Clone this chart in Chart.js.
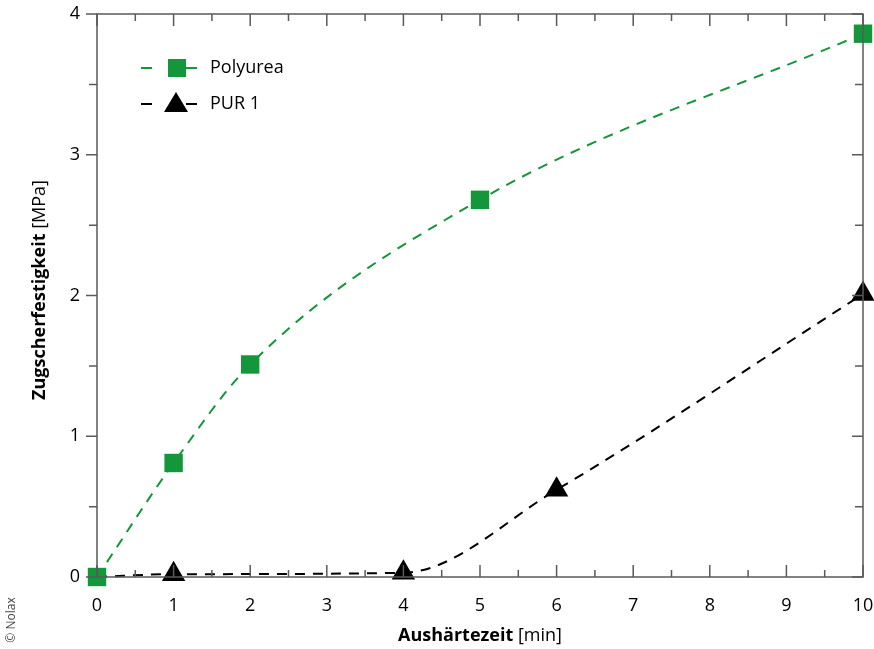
<!DOCTYPE html>
<html>
<head>
<meta charset="utf-8">
<script src="https://cdn.jsdelivr.net/npm/chart.js@4.4.1/dist/chart.umd.min.js"></script>
<style>
  html, body { margin: 0; padding: 0; background: #fff; }
  #wrap { width: 874px; height: 649px; position: relative; }
</style>
</head>
<body>
<div id="wrap"><canvas id="chart"></canvas></div>
<script>
// data
const polyureaTime = [0, 1, 2, 5, 10];
const polyureaStrength = [0, 0.81, 1.51, 2.68, 3.86];
const purTime = [0, 1, 4, 6, 10];
const purStrength = [0, 0.02, 0.03, 0.62, 2.01];
const purMarkerShown = [false, true, true, true, true];
const xTicks = [0, 1, 2, 3, 4, 5, 6, 7, 8, 9, 10];
const yTicks = [0, 1, 2, 3, 4];

const GREEN = '#14963a';
const AXIS = '#5a5a5a';
const FONT = '"Open Sans", "Noto Sans", sans-serif';

const toPoints = (xs, ys) => xs.map((x, i) => ({ x: x, y: ys[i] }));

// axis ticks: left outward, others inward (drawn by hand)
const tickPlugin = {
  id: 'tickMarks',
  afterDraw(chart) {
    const { ctx, chartArea: a, scales: { x, y } } = chart;
    ctx.save();
    ctx.strokeStyle = AXIS;
    ctx.lineWidth = 1.5;
    ctx.beginPath();
    for (let v = 0; v <= 10; v += 0.5) {
      const px = x.getPixelForValue(v);
      const len = Number.isInteger(v) ? 12 : 7;
      ctx.moveTo(px, a.bottom); ctx.lineTo(px, a.bottom - len);
      ctx.moveTo(px, a.top); ctx.lineTo(px, a.top + len);
    }
    for (let v = 0; v <= 4; v += 0.5) {
      const py = y.getPixelForValue(v);
      const len = Number.isInteger(v) ? 11 : 8;
      ctx.moveTo(a.left, py); ctx.lineTo(a.left - len, py);
      ctx.moveTo(a.right, py); ctx.lineTo(a.right - len, py);
    }
    ctx.stroke();
    // frame
    ctx.strokeRect(a.left, a.top, a.right - a.left, a.bottom - a.top);
    ctx.restore();
  }
};

// axis titles with bold + normal parts, copyright note
const titlePlugin = {
  id: 'titles',
  afterDraw(chart) {
    const { ctx, chartArea: a } = chart;
    ctx.save();
    ctx.fillStyle = '#000';
    ctx.textBaseline = 'middle';
    const drawMixed = (bold, normal, cx, cy) => {
      ctx.font = 'bold 18px ' + FONT;
      const wb = ctx.measureText(bold).width;
      ctx.font = '18px ' + FONT;
      const wn = ctx.measureText(normal).width;
      let sx = cx - (wb + wn) / 2;
      ctx.textAlign = 'left';
      ctx.font = 'bold 18px ' + FONT;
      ctx.fillText(bold, sx, cy);
      ctx.font = '18px ' + FONT;
      ctx.fillText(normal, sx + wb, cy);
    };
    drawMixed('Aushärtezeit', ' [min]', (a.left + a.right) / 2, 636);
    ctx.save();
    ctx.translate(40, 290);
    ctx.rotate(-Math.PI / 2);
    drawMixed('Zugscherfestigkeit', ' [MPa]', 0, 0);
    ctx.restore();
    ctx.save();
    ctx.translate(12, 620);
    ctx.rotate(-Math.PI / 2);
    ctx.font = '12px ' + FONT;
    ctx.fillStyle = '#444';
    ctx.textAlign = 'center';
    ctx.fillText('© Nolax', 0, 0);
    ctx.restore();
    ctx.restore();
  }
};

// legend inside the plot, top left
const legendPlugin = {
  id: 'innerLegend',
  afterDraw(chart) {
    const { ctx } = chart;
    const rows = [68, 104];
    ctx.save();
    chart.data.datasets.forEach((ds, i) => {
      const cy = rows[i];
      ctx.strokeStyle = ds.borderColor;
      ctx.lineWidth = 2;
      ctx.beginPath();
      ctx.moveTo(141, cy); ctx.lineTo(152, cy);
      ctx.moveTo(186, cy); ctx.lineTo(197, cy);
      ctx.stroke();
      ctx.fillStyle = ds.pointBackgroundColor;
      ctx.beginPath();
      if (ds.pointStyle === 'rect') {
        ctx.rect(168, cy - 9, 18, 18);
      } else {
        ctx.moveTo(176, cy - 12);
        ctx.lineTo(188, cy + 8);
        ctx.lineTo(164, cy + 8);
        ctx.closePath();
      }
      ctx.fill();
      ctx.fillStyle = '#000';
      ctx.font = '18px ' + FONT;
      ctx.textAlign = 'left';
      ctx.textBaseline = 'middle';
      ctx.fillText(ds.label, 210, cy);
    });
    ctx.restore();
  }
};

// the "10" label overflow pushes the right edge in; pin the plot edge
const pinAreaPlugin = {
  id: 'pinArea',
  afterLayout(chart) {
    const x = chart.scales.x;
    const right = 863;
    chart.chartArea.right = right;
    chart.chartArea.width = right - chart.chartArea.left;
    x.right = right;
    x.width = right - x.left;
    x.configure();
  }
};

new Chart(document.getElementById('chart'), {
  type: 'line',
  data: {
    datasets: [
      {
        label: 'Polyurea',
        data: toPoints(polyureaTime, polyureaStrength),
        borderColor: GREEN,
        borderWidth: 2,
        borderDash: [10, 8],
        cubicInterpolationMode: 'monotone',
        pointStyle: 'rect',
        pointRadius: 13,
        pointBackgroundColor: GREEN,
        pointBorderWidth: 0,
        order: 0
      },
      {
        label: 'PUR 1',
        data: toPoints(purTime, purStrength),
        borderColor: '#000',
        borderWidth: 2,
        borderDash: [10, 8],
        cubicInterpolationMode: 'monotone',
        pointStyle: 'triangle',
        pointRadius: purMarkerShown.map(s => s ? 13.5 : 0),
        pointBackgroundColor: '#000',
        pointBorderWidth: 0,
        order: 1
      }
    ]
  },
  options: {
    responsive: true,
    maintainAspectRatio: false,
    animation: false,
    clip: false,
    layout: { padding: { left: 0, top: 14, right: 11, bottom: 0 } },
    plugins: {
      legend: { display: false },
      tooltip: { enabled: false }
    },
    scales: {
      x: {
        type: 'linear',
        min: 0,
        max: 10,
        afterBuildTicks: s => { s.ticks = xTicks.map(v => ({ value: v })); },
        afterFit: s => { s.height = 72; s.paddingLeft = 0; s.paddingRight = 0; },
        grid: { display: false, drawTicks: false },
        border: { display: false },
        ticks: { color: '#000', font: { family: FONT, size: 18 }, padding: 18 }
      },
      y: {
        type: 'linear',
        min: 0,
        max: 4,
        afterBuildTicks: s => { s.ticks = yTicks.map(v => ({ value: v })); },
        afterFit: s => { s.width = 97; s.paddingTop = 0; s.paddingBottom = 0; },
        grid: { display: false, drawTicks: false },
        border: { display: false },
        ticks: { color: '#000', font: { family: FONT, size: 18 }, padding: 17 }
      }
    }
  },
  plugins: [tickPlugin, titlePlugin, legendPlugin, pinAreaPlugin]
});
</script>
</body>
</html>
